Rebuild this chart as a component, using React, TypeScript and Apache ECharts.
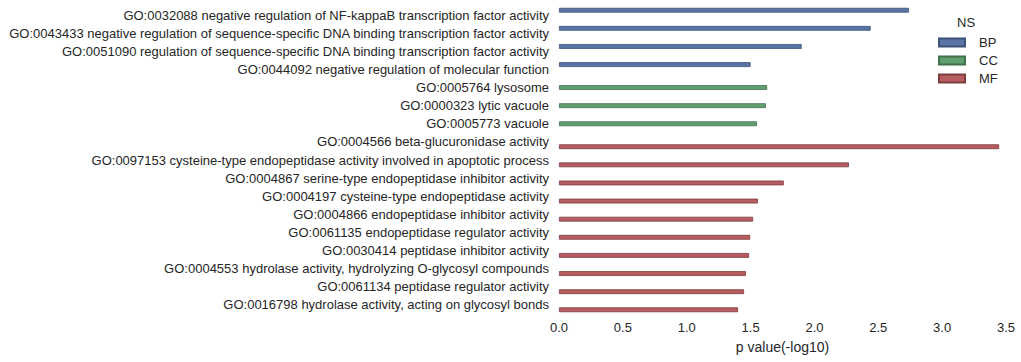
import React, { useEffect, useRef } from "react";
import * as echarts from "echarts";

const categories = [
  "GO:0032088 negative regulation of NF-kappaB transcription factor activity",
  "GO:0043433 negative regulation of sequence-specific DNA binding transcription factor activity",
  "GO:0051090 regulation of sequence-specific DNA binding transcription factor activity",
  "GO:0044092 negative regulation of molecular function",
  "GO:0005764 lysosome",
  "GO:0000323 lytic vacuole",
  "GO:0005773 vacuole",
  "GO:0004566 beta-glucuronidase activity",
  "GO:0097153 cysteine-type endopeptidase activity involved in apoptotic process",
  "GO:0004867 serine-type endopeptidase inhibitor activity",
  "GO:0004197 cysteine-type endopeptidase activity",
  "GO:0004866 endopeptidase inhibitor activity",
  "GO:0061135 endopeptidase regulator activity",
  "GO:0030414 peptidase inhibitor activity",
  "GO:0004553 hydrolase activity, hydrolyzing O-glycosyl compounds",
  "GO:0061134 peptidase regulator activity",
  "GO:0016798 hydrolase activity, acting on glycosyl bonds",
];
const namespaces = ["BP", "BP", "BP", "BP", "CC", "CC", "CC", "MF", "MF", "MF", "MF", "MF", "MF", "MF", "MF", "MF", "MF"];
const pValues = [2.74, 2.44, 1.9, 1.5, 1.63, 1.62, 1.55, 3.446, 2.27, 1.76, 1.558, 1.52, 1.497, 1.488, 1.464, 1.449, 1.402];
const nsNames = ["BP", "CC", "MF"];
const nsColors = ["#5975a4", "#5f9e6e", "#b55d60"];
const nsBorders = ["#3d5278", "#41704c", "#7f3c3e"];
const xTicks = { min: 0, max: 3.5, interval: 0.5 };

export default function App() {
  const ref = useRef<HTMLDivElement>(null);
  useEffect(() => {
    if (!ref.current) return;
    const chart = echarts.init(ref.current, undefined, { renderer: "svg" });
    const font = "'Liberation Sans', Arial, sans-serif";
    const series = nsNames.map((ns, k) => ({
      name: ns,
      type: "bar",
      data: pValues.map((v, i) => (namespaces[i] === ns ? v : null)),
      barGap: "0%",
      barCategoryGap: "20%",
      itemStyle: { color: nsColors[k], borderColor: nsBorders[k], borderWidth: 0.8 },
    }));
    chart.setOption({
      animation: false,
      backgroundColor: "#ffffff",
      textStyle: { fontFamily: font },
      grid: { left: 559, right: 15, top: 6, bottom: 48, containLabel: false },
      xAxis: {
        type: "value",
        min: xTicks.min,
        max: xTicks.max,
        interval: xTicks.interval,
        axisLine: { show: false },
        axisTick: { show: false },
        splitLine: { show: false },
        axisLabel: {
          color: "#262626",
          fontSize: 13,
          fontFamily: font,
          margin: 7,
          formatter: (v: number) => v.toFixed(1),
        },
        name: "p value(-log10)",
        nameLocation: "middle",
        nameGap: 26,
        nameTextStyle: { color: "#262626", fontSize: 14, fontFamily: font },
      },
      yAxis: {
        type: "category",
        data: categories,
        inverse: true,
        axisLine: { show: false },
        axisTick: { show: false },
        splitLine: { show: false },
        axisLabel: { color: "#262626", fontSize: 13, fontFamily: font, margin: 10 },
      },
      legend: {
        data: nsNames,
        orient: "vertical",
        left: 933,
        top: 31,
        itemWidth: 26,
        itemHeight: 8,
        itemGap: 5,
        icon: "rect",
        textStyle: { color: "#262626", fontSize: 13, fontFamily: font, padding: [0, 0, 0, 9] },
      },
      graphic: [
        {
          type: "text",
          left: 957,
          top: 16,
          style: { text: "NS", fill: "#262626", fontSize: 13, fontFamily: font },
        },
      ],
      series,
    });
    return () => chart.dispose();
  }, []);
  return (
    <div
      ref={ref}
      style={{ position: "fixed", left: 0, top: 0, width: 1021, height: 362 }}
    />
  );
}
